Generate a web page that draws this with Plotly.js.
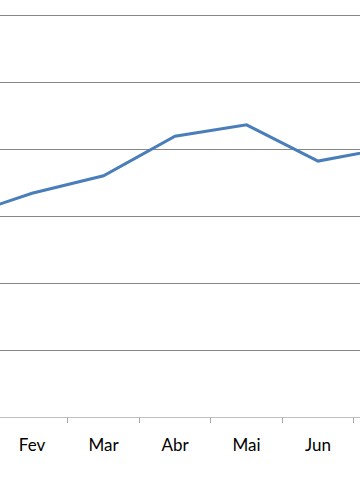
<!DOCTYPE html>
<html><head><meta charset="utf-8">
<script src="https://cdn.plot.ly/plotly-3.0.1.min.js"></script>
<style>html,body{margin:0;padding:0;background:#fff}#c{width:360px;height:504px}</style>
</head><body><div id="c"></div>
<script>
const months = ["Jan","Fev","Mar","Abr","Mai","Jun","Jul"];
const values = [2.98, 3.34, 3.60, 4.19, 4.36, 3.82, 4.02];
const yTicks = [0,1,2,3,4,5,6];

Plotly.newPlot('c', [{
  x: months, y: values, type: 'scatter', mode: 'lines',
  line: {color: '#4a7ebb', width: 3}, hoverinfo: 'skip'
}], {
  width: 360, height: 504,
  margin: {l: 0, r: 0, t: 10, b: 87},
  paper_bgcolor: '#fff', plot_bgcolor: '#fff',
  showlegend: false,
  xaxis: {
    type: 'category', range: [0.552, 5.587],
    tickson: 'boundaries', ticks: 'outside', ticklen: 5, tickcolor: '#a6a6a6',
    showline: true, linecolor: '#bfbfbf', linewidth: 1,
    showgrid: false, zeroline: false,
    tickfont: {family: 'Lato, sans-serif', size: 17, color: '#000'},
    ticklabelstandoff: 13
  },
  yaxis: {
    range: [0, 6.0746], tickvals: yTicks, showticklabels: false,
    showgrid: true, gridcolor: '#868686', gridwidth: 1,
    zeroline: false, showline: false, ticks: ''
  }
}, {staticPlot: true});
</script></body></html>
